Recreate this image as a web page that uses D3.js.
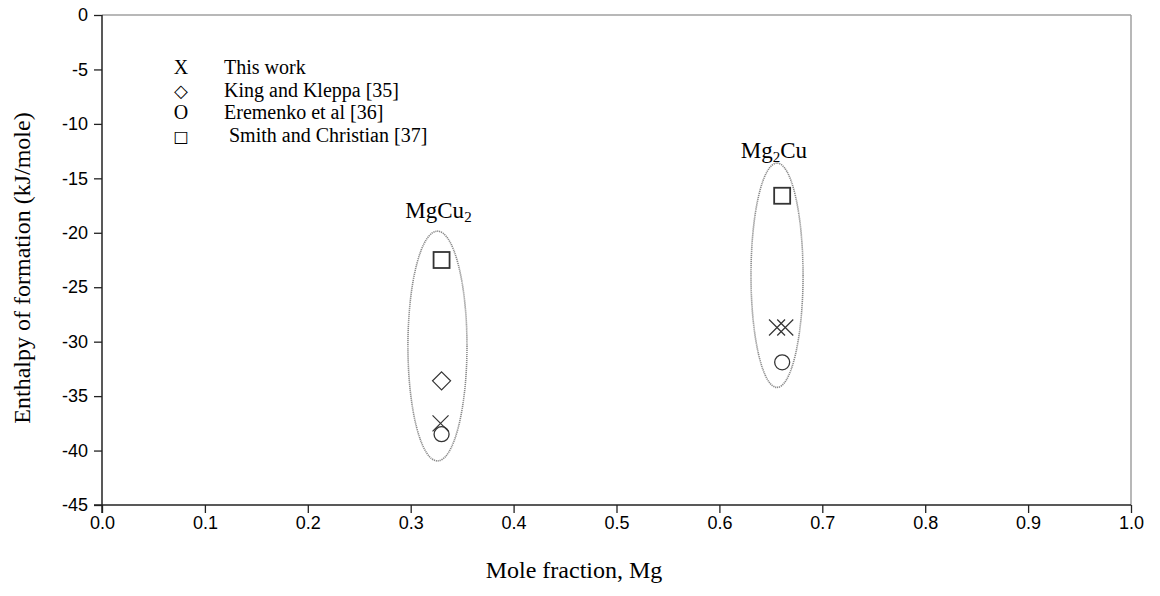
<!DOCTYPE html>
<html>
<head>
<meta charset="utf-8">
<script src="https://cdn.jsdelivr.net/npm/d3@7"></script>
<style>
  html, body { margin: 0; padding: 0; background: #fff; }
  svg { display: block; }
</style>
</head>
<body>
<svg id="chart" width="1160" height="596"></svg>
<script>
// Enthalpy of formation of Mg–Cu intermetallics
const xTicks = [0.0, 0.1, 0.2, 0.3, 0.4, 0.5, 0.6, 0.7, 0.8, 0.9, 1.0];
const yTicks = [0, -5, -10, -15, -20, -25, -30, -35, -40, -45];

// Data: [mole fraction Mg, enthalpy kJ/mole]
const thisWork     = [[0.329, -37.5], [0.656, -28.7], [0.664, -28.7]];
const kingKleppa   = [[0.330, -33.6]];
const eremenko     = [[0.330, -38.5], [0.661, -31.9]];
const smithChrist  = [[0.330, -22.5], [0.661, -16.6]];

// Phase groups: centre x, centre y, half-width (x units), half-height (y units)
const phaseEllipse = [[0.326, -30.4, 0.0287, 10.55], [0.656, -23.9, 0.0253, 10.3]];

const legendLabels = ["This work", "King and Kleppa [35]", "Eremenko et al [36]", " Smith and Christian [37]"];
const legendSymbols = ["X", "\u25C7", "O", "\u25A1"];

const svg = d3.select("#chart");
const margin = { left: 102, right: 1131, top: 15, bottom: 505 };

const x = d3.scaleLinear().domain([0, 1]).range([margin.left, margin.right]);
const y = d3.scaleLinear().domain([-45, 0]).range([margin.bottom, margin.top]);

const sans = "'Liberation Sans', Arial, sans-serif";
const serif = "'Liberation Serif', 'Times New Roman', serif";

// Frame: top and right edges in light grey
svg.append("line").attr("x1", x(0)).attr("x2", x(1)).attr("y1", y(0)).attr("y2", y(0))
  .attr("stroke", "#a0a0a0").attr("stroke-width", 1.5);
svg.append("line").attr("x1", x(1)).attr("x2", x(1)).attr("y1", y(0)).attr("y2", y(-45))
  .attr("stroke", "#a0a0a0").attr("stroke-width", 1.5);

// Axes
const xAxis = svg.append("g").attr("transform", `translate(0,${y(-45)})`)
  .call(d3.axisBottom(x).tickValues(xTicks).tickFormat(d3.format(".1f")).tickSizeInner(8).tickSizeOuter(0));
const yAxis = svg.append("g").attr("transform", `translate(${x(0)},0)`)
  .call(d3.axisLeft(y).tickValues(yTicks).tickFormat(d => String(d)).tickSizeInner(8).tickSizeOuter(0));

[xAxis, yAxis].forEach(g => {
  g.select(".domain").attr("stroke", "#222").attr("stroke-width", 1.5);
  g.selectAll(".tick line").attr("stroke", "#222").attr("stroke-width", 1.3);
  g.selectAll(".tick text").attr("fill", "#000").style("font-family", sans).style("font-size", "18px");
});
yAxis.selectAll(".tick text").attr("x", -14);
// extend axis lines across the corner
xAxis.select(".domain").attr("d", `M${x(0) - 8},0H${x(1)}`);
yAxis.select(".domain").attr("d", `M0,${y(0)}V${y(-45) + 8}`);

// Axis titles
svg.append("text").attr("x", 574).attr("y", 578)
  .attr("text-anchor", "middle").style("font-family", serif).style("font-size", "24px")
  .text("Mole fraction, Mg");
svg.append("text").attr("transform", `translate(30,${(y(0) + y(-45)) / 2 + 8}) rotate(-90)`)
  .attr("text-anchor", "middle").style("font-family", serif).style("font-size", "24px")
  .text("Enthalpy of formation (kJ/mole)");

// Grouping ellipses (dotted grey)
svg.append("g").selectAll("ellipse").data(phaseEllipse).join("ellipse")
  .attr("cx", d => x(d[0])).attr("cy", d => y(d[1]))
  .attr("rx", d => x(d[0] + d[2]) - x(d[0]))
  .attr("ry", d => y(d[1] - d[3]) - y(d[1]))
  .attr("fill", "none").attr("stroke", "#8a8a8a").attr("stroke-width", 1.6)
  .attr("stroke-dasharray", "1.2,0.8");

// Phase labels
const lbl1 = svg.append("text").attr("x", x(0.327)).attr("y", y(-18.6))
  .attr("text-anchor", "middle").style("font-family", serif).style("font-size", "23px");
lbl1.append("tspan").text("MgCu");
lbl1.append("tspan").attr("dy", 4).style("font-size", "15px").text("2");
const lbl2 = svg.append("text").attr("x", x(0.653)).attr("y", y(-13.1))
  .attr("text-anchor", "middle").style("font-family", serif).style("font-size", "23px");
lbl2.append("tspan").text("Mg");
lbl2.append("tspan").attr("dy", 4).style("font-size", "15px").text("2");
lbl2.append("tspan").attr("dy", -4).text("Cu");

// Markers
const marks = svg.append("g").attr("fill", "none").attr("stroke", "#333");

marks.selectAll("path.x").data(thisWork).join("path").attr("class", "x")
  .attr("transform", d => `translate(${x(d[0])},${y(d[1])})`)
  .attr("d", "M-8,-8L8,8M-8,8L8,-8").attr("stroke-width", 1.2);

marks.selectAll("path.dia").data(kingKleppa).join("path").attr("class", "dia")
  .attr("transform", d => `translate(${x(d[0])},${y(d[1])})`)
  .attr("d", "M0,-9L9,0L0,9L-9,0Z").attr("stroke-width", 1.2);

marks.selectAll("circle").data(eremenko).join("circle")
  .attr("cx", d => x(d[0])).attr("cy", d => y(d[1])).attr("r", 7.5).attr("stroke-width", 1.3);

marks.selectAll("rect").data(smithChrist).join("rect")
  .attr("x", d => x(d[0]) - 8).attr("y", d => y(d[1]) - 8)
  .attr("width", 16).attr("height", 16).attr("stroke-width", 1.8);

// Legend (text symbols)
const legend = svg.append("g").style("font-family", serif).style("font-size", "20px");
legendLabels.forEach((t, i) => {
  const yy = 74 + i * 22.7;
  legend.append("text").attr("x", 181).attr("y", yy).attr("text-anchor", "middle")
    .style("font-family", i === 1 || i === 3 ? "'DejaVu Sans', sans-serif" : serif)
    .style("font-size", i === 1 ? "18px" : i === 3 ? "16px" : "20px").text(legendSymbols[i]);
  legend.append("text").attr("x", 224).attr("y", yy).attr("xml:space", "preserve")
    .style("white-space", "pre").text(t);
});
</script>
</body>
</html>
